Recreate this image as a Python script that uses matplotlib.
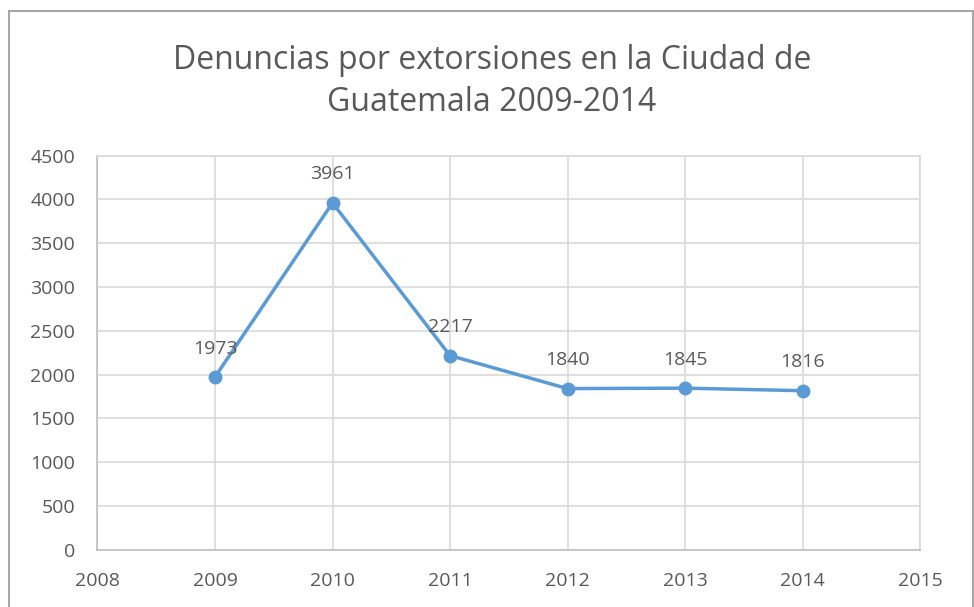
import matplotlib.pyplot as plt
from matplotlib.patches import Rectangle

plt.rcParams['font.family'] = ['Open Sans', 'DejaVu Sans']

# Data
years = [2009, 2010, 2011, 2012, 2013, 2014]
denuncias = [1973, 3961, 2217, 1840, 1845, 1816]
x_ticks = [2008, 2009, 2010, 2011, 2012, 2013, 2014, 2015]
y_ticks = [0, 500, 1000, 1500, 2000, 2500, 3000, 3500, 4000, 4500]

text_color = '#595959'
grid_color = '#D9D9D9'
line_color = '#5B9BD5'

fig = plt.figure(figsize=(9.74, 6.07), dpi=100)
ax = fig.add_axes([0.1001, 0.0944, 0.8445, 0.6491])

# chart border
fig.patches.append(Rectangle((9 / 974, -0.01), 964 / 974, 1 - 11 / 607 + 0.01,
                             transform=fig.transFigure, fill=False,
                             edgecolor='#A6A6A6', linewidth=1.5))

ax.plot(years, denuncias, color=line_color, linewidth=2.5, marker='o',
        markersize=9, zorder=3)

for x, y in zip(years, denuncias):
    ax.annotate(str(y), (x, y), xytext=(0, 14), textcoords='offset points',
                ha='center', va='bottom', fontsize=14, color=text_color)

ax.set_xlim(2008, 2015)
ax.set_ylim(0, 4500)
ax.set_xticks(x_ticks)
ax.set_yticks(y_ticks)
ax.grid(True, color=grid_color, linewidth=1.2)
ax.set_axisbelow(True)
for s in ax.spines.values():
    s.set_color(grid_color)
    s.set_linewidth(1.2)
ax.spines['left'].set_color('#BFBFBF')
ax.spines['bottom'].set_color('#BFBFBF')
ax.tick_params(length=0, labelsize=14, colors=text_color)
ax.tick_params(axis='y', pad=16)
ax.tick_params(axis='x', pad=16)

fig.text(0.505, 0.866, 'Denuncias por extorsiones en la Ciudad de\nGuatemala 2009-2014',
         ha='center', va='center', fontsize=23, color=text_color, linespacing=1.38)

fig.savefig('out.png', dpi=100)
